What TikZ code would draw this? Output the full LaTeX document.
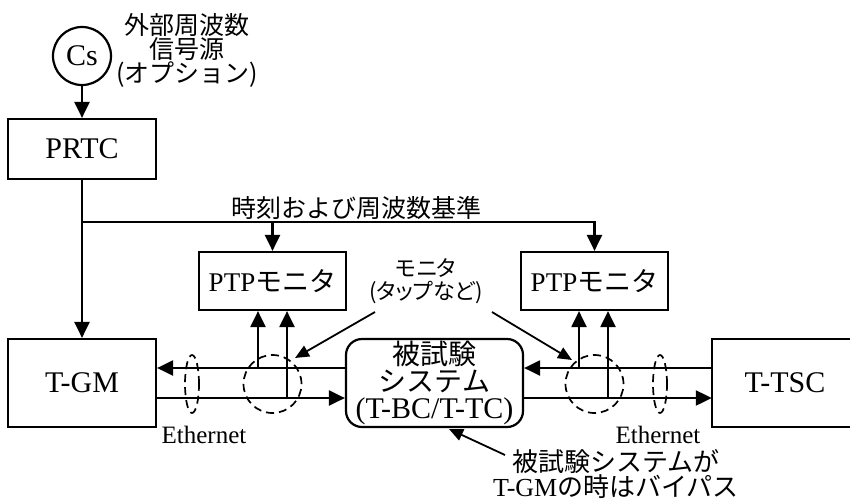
\documentclass[tikz,border=0pt]{standalone}
\usepackage{fontspec}
\setmainfont{Liberation Serif}
\newfontfamily\jp{Noto Sans CJK JP}
\newfontfamily\jpp[RawFeature=+palt]{Noto Sans CJK JP}
\usetikzlibrary{arrows.meta,shapes.geometric}
\tikzset{
  box/.style={draw,line width=2.2pt,rectangle,inner sep=0pt},
  arr/.style={line width=2.2pt,-{Triangle[length=16pt,width=15pt]}},
  ln/.style={line width=2.2pt},
  pointer/.style={line width=1.8pt,-{Triangle[length=14pt,width=12pt]}},
  dsh/.style={draw,line width=1.7pt,dash pattern=on 8pt off 5pt,inner sep=0pt},
  lbl/.style={inner sep=0pt,align=center},
}
\begin{document}
\begin{tikzpicture}[x=1pt,y=-1pt]
\useasboundingbox (0,0) rectangle (850,501);
% nodes
\node[box,circle,minimum size=58pt,font=\fontsize{30}{30}\selectfont] (cs) at (82,56) {Cs};
\node[lbl,font=\jp\fontsize{25}{24}\selectfont] (ext) at (187,50) {外部周波数\\信号源\\(オプション)};
\node[box,minimum width=148pt,minimum height=60pt,font=\fontsize{30}{30}\selectfont] (prtc) at (82,149) {PRTC};
\node[box,minimum width=148pt,minimum height=88pt,font=\fontsize{30}{30}\selectfont] (tgm) at (82,383) {T-GM};
\node[box,minimum width=147pt,minimum height=58pt,font=\fontsize{27}{27}\selectfont] (ptp1) at (272.5,281) {PTP{\jp モニタ}};
\node[box,minimum width=147pt,minimum height=58pt,font=\fontsize{27}{27}\selectfont] (ptp2) at (594.5,281) {PTP{\jp モニタ}};
\node[box,rounded corners=16pt,minimum width=177pt,minimum height=88pt,align=center,font=\fontsize{30}{27}\selectfont] (dut) at (434.5,383) {{\jp\fontsize{28}{27}\selectfont 被試験}\\{\jp\fontsize{28}{27}\selectfont システム}\\(T-BC/T-TC)};
\node[inner sep=0pt,minimum width=138pt,minimum height=88pt] (tsc) at (781,383) {};
\node[inner sep=0pt,font=\fontsize{30}{30}\selectfont] at (785,383) {T-TSC};
\draw[ln] (tsc.north east) -- (tsc.north west) -- (tsc.south west) -- (tsc.south east);
% labels
\node[lbl,font=\jp\fontsize{25}{25}\selectfont] (ref) at (356,208) {時刻および周波数基準};
\node[lbl,font=\jpp\fontsize{22}{23}\selectfont] (mon) at (426,281) {モニタ\\(タップなど)};
\node[lbl,font=\fontsize{25}{25}\selectfont] (eth1) at (204,435) {Ethernet};
\node[lbl,font=\fontsize{25}{25}\selectfont] (eth2) at (658,435) {Ethernet};
\node[lbl,font=\jp\fontsize{26}{23}\selectfont] (byp) at (616,474) {被試験システムが\\{\rmfamily T-GM}の時はバイパス};
% dashed ellipses
\node[dsh,circle,minimum size=58pt] (tap1) at (272.5,384) {};
\node[dsh,circle,minimum size=58pt] (tap2) at (594.5,384) {};
\node[dsh,ellipse,minimum width=14pt,minimum height=58pt] (e1) at (192,384) {};
\node[dsh,ellipse,minimum width=14pt,minimum height=58pt] (e2) at (660,384) {};
% coordinates
\coordinate (uy) at (0,368);
\coordinate (ly) at (0,398);
\coordinate (j) at (82,222);
\coordinate (t1a) at (258,368);
\coordinate (t1b) at (287,398);
\coordinate (t2a) at (579,368);
\coordinate (t2b) at (608,398);
\coordinate (m1) at (375,312);
\coordinate (m1t) at (295,358);
\coordinate (m2) at (492,312);
\coordinate (m2t) at (572,360);
\coordinate (b0) at (505,455);
\coordinate (bt) at (449,429);
% connectors
\draw[arr] (cs) -- (prtc);
\draw[arr] (prtc) -- (tgm);
\draw[arr] (j) -| (ptp2.north);
\draw[arr] (j -| ptp1.north) -- (ptp1.north);
\draw[arr] (dut.west |- uy) -- (tgm.east |- uy);
\draw[arr] (tgm.east |- ly) -- (dut.west |- ly);
\draw[arr] (tsc.west |- uy) -- (dut.east |- uy);
\draw[arr] (dut.east |- ly) -- (tsc.west |- ly);
\draw[arr] (t1a) -- (t1a |- ptp1.south);
\draw[arr] (t1b) -- (t1b |- ptp1.south);
\draw[arr] (t2a) -- (t2a |- ptp2.south);
\draw[arr] (t2b) -- (t2b |- ptp2.south);
\draw[pointer] (m1) -- (m1t);
\draw[pointer] (m2) -- (m2t);
\draw[pointer] (b0) -- (bt);
\end{tikzpicture}
\end{document}
